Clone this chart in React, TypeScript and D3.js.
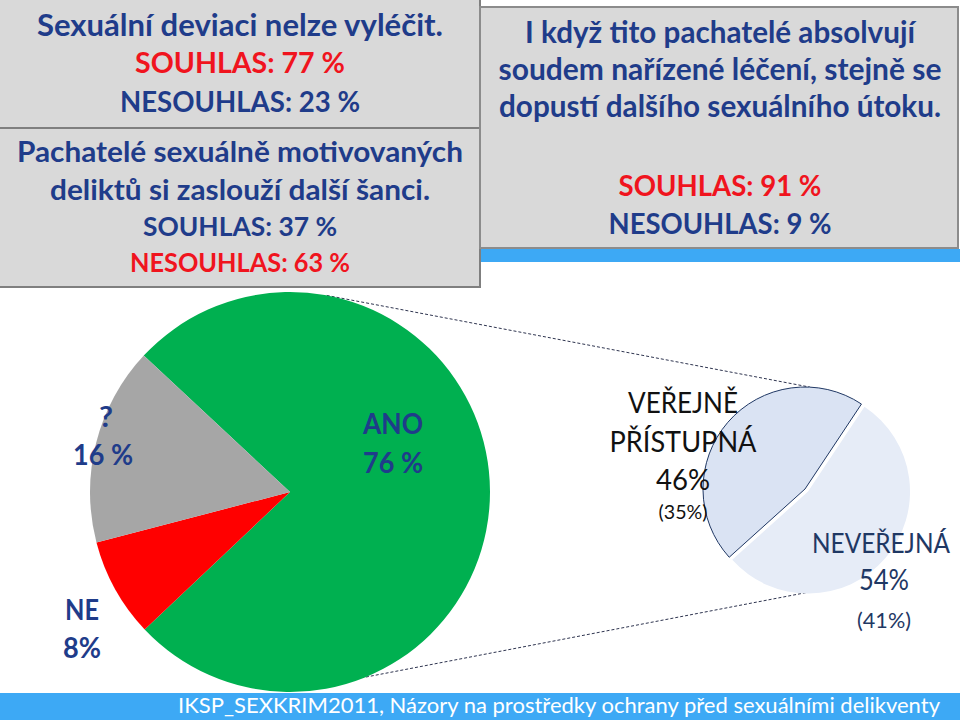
import React from 'react';
import * as d3 from 'd3';

// ---- data ----
const mainCategories = ['ANO', 'NE', '?'];
const mainValues = [76, 8, 16];
const mainLabels = ['76 %', '8%', '16 %'];
const subCategories = ['VEŘEJNĚ PŘÍSTUPNÁ', 'NEVEŘEJNÁ'];
const subValues = [46, 54];
const subShares = ['(35%)', '(41%)'];

const box1Title = ['Sexuální deviaci nelze vyléčit.'];
const box1Agree = 77;
const box1Disagree = 23;
const box2Title = ['Pachatelé sexuálně motivovaných', 'deliktů si zaslouží další šanci.'];
const box2Agree = 37;
const box2Disagree = 63;
const box3Title = ['I když tito pachatelé absolvují', 'soudem nařízené léčení, stejně se', 'dopustí dalšího sexuálního útoku.'];
const box3Agree = 91;
const box3Disagree = 9;
const footer = 'IKSP_SEXKRIM2011,  Názory na prostředky ochrany před sexuálními delikventy';

// ---- style ----
const FONT = "Lato, 'Open Sans', sans-serif";
const NAVY = '#1F3C8A';
const RED = '#F0141E';
const mainColors = ['#00B050', '#FF0000', '#A6A6A6'];
const subColors = ['#DAE3F3', '#E6ECF7'];

type Line = { t: string; x: number; y: number; w: number; c: string; s: number; b?: boolean };

const T = ({ l }: { l: Line }) => (
  <text
    x={l.x}
    y={l.y}
    textAnchor="middle"
    fill={l.c}
    fontFamily={FONT}
    fontWeight={l.b === false ? 400 : 700}
    fontSize={l.s}
    textLength={l.w}
    lengthAdjust="spacingAndGlyphs"
  >
    {l.t}
  </text>
);

export default function App() {
  const W = 960, H = 720;

  // main pie
  const mc = [290, 492];
  const mr = 200;
  const deg = Math.PI / 180;
  const mainPie = d3.pie<number>().sort(null).startAngle(-47 * deg).endAngle(313 * deg)(mainValues);
  const mainArc = d3.arc<d3.PieArcDatum<number>>().innerRadius(0).outerRadius(mr);

  // secondary pie
  const sc = [805, 489];
  const sr = 102;
  const subPie = d3.pie<number>().sort(null).startAngle(-132 * deg).endAngle(228 * deg)(subValues);
  const subArc = d3.arc<d3.PieArcDatum<number>>().innerRadius(0).outerRadius(sr);

  const pt = (c: number[], r: number, a: number) => [c[0] + r * Math.sin(a * deg), c[1] - r * Math.cos(a * deg)];
  const connectors = [
    [pt(mc, mr, 10.6), pt(sc, sr, 2.8)],
    [pt(mc, mr, 157.7), pt(sc, sr, 168)],
  ];

  const box1: Line[] = [
    { t: box1Title[0], x: 240, y: 36, w: 406, c: NAVY, s: 30 },
    { t: `SOUHLAS:  ${box1Agree} %`, x: 240, y: 73, w: 210, c: RED, s: 28 },
    { t: `NESOUHLAS: ${box1Disagree} %`, x: 240, y: 112, w: 240, c: NAVY, s: 28 },
    { t: box2Title[0], x: 240, y: 162, w: 446, c: NAVY, s: 29 },
    { t: box2Title[1], x: 240, y: 200, w: 380, c: NAVY, s: 29 },
    { t: `SOUHLAS:  ${box2Agree} %`, x: 240, y: 236, w: 194, c: NAVY, s: 26 },
    { t: `NESOUHLAS: ${box2Disagree} %`, x: 240, y: 272, w: 220, c: RED, s: 26 },
  ];
  const box3: Line[] = [
    { t: box3Title[0], x: 720, y: 43, w: 390, c: NAVY, s: 30 },
    { t: box3Title[1], x: 720, y: 80, w: 443, c: NAVY, s: 30 },
    { t: box3Title[2], x: 720, y: 117, w: 442, c: NAVY, s: 30 },
    { t: `SOUHLAS: ${box3Agree} %`, x: 720, y: 196, w: 203, c: RED, s: 28 },
    { t: `NESOUHLAS: ${box3Disagree} %`, x: 720, y: 234, w: 223, c: NAVY, s: 28 },
  ];

  const mainLabelLines: Line[] = [
    { t: mainCategories[0], x: mc[0] + 103, y: 434, w: 60, c: NAVY, s: 29 },
    { t: mainLabels[0], x: mc[0] + 103, y: 473, w: 60, c: NAVY, s: 29 },
    { t: mainCategories[1], x: mc[0] - 208, y: 620, w: 34, c: NAVY, s: 29 },
    { t: mainLabels[1], x: mc[0] - 208, y: 658, w: 38, c: NAVY, s: 29 },
    { t: mainCategories[2], x: mc[0] - 184, y: 427, w: 14, c: NAVY, s: 29 },
    { t: mainLabels[2], x: mc[0] - 187, y: 465, w: 60, c: NAVY, s: 29 },
  ];
  const [subA1, subA2] = subCategories[0].split(' ');
  const subLabelLines: Line[] = [
    { t: subA1, x: sc[0] - 122, y: 413, w: 110, c: '#111111', s: 28, b: false },
    { t: subA2, x: sc[0] - 122, y: 452, w: 147, c: '#111111', s: 28, b: false },
    { t: `${subValues[0]}%`, x: sc[0] - 122, y: 490, w: 54, c: '#111111', s: 28, b: false },
    { t: subShares[0], x: sc[0] - 122, y: 519, w: 49, c: '#111111', s: 19, b: false },
    { t: subCategories[1], x: sc[0] + 76, y: 553, w: 138, c: '#1F3864', s: 27, b: false },
    { t: `${subValues[1]}%`, x: sc[0] + 79, y: 590, w: 50, c: '#1F3864', s: 28, b: false },
    { t: subShares[1], x: sc[0] + 79, y: 628, w: 54, c: '#1F3864', s: 21, b: false },
  ];

  const subOff = (d: d3.PieArcDatum<number>, i: number) => {
    if (i === 0) return [0, 0];
    const a = (d.startAngle + d.endAngle) / 2;
    return [4 * Math.sin(a), -4 * Math.cos(a)];
  };

  return (
    <svg width={W} height={H} style={{ position: 'absolute', left: 0, top: 0, background: '#fff' }}>
      <rect x={0} y={0} width={W} height={H} fill="#ffffff" />
      {/* left boxes */}
      <rect x={-2} y={-2} width={482} height={289} fill="#D9D9D9" stroke="#7F7F7F" strokeWidth={2} />
      <line x1={0} x2={480} y1={128} y2={128} stroke="#7F7F7F" strokeWidth={2} />
      {/* right box */}
      <rect x={480} y={7} width={478} height={241} fill="#D9D9D9" stroke="#8C8C8C" strokeWidth={2} />
      <rect x={481} y={249} width={479} height={13} fill="#3DA9F5" />
      {box1.map((l, i) => <T key={'b1' + i} l={l} />)}
      {box3.map((l, i) => <T key={'b3' + i} l={l} />)}

      {/* connector lines */}
      {connectors.map((c, i) => (
        <line key={'cn' + i} x1={c[0][0]} y1={c[0][1]} x2={c[1][0]} y2={c[1][1]}
          stroke="#2F3550" strokeWidth={1} strokeDasharray="3,2" />
      ))}

      {/* main pie */}
      <g transform={`translate(${mc[0]},${mc[1]})`}>
        {mainPie.map((d, i) => (
          <path key={'m' + i} d={mainArc(d) || ''} fill={mainColors[i]} />
        ))}
      </g>

      {/* secondary pie */}
      <g transform={`translate(${sc[0]},${sc[1]})`}>
        {subPie.map((d, i) => {
          const [dx, dy] = subOff(d, i);
          return (
            <path key={'s' + i} transform={`translate(${dx},${dy})`} d={subArc(d) || ''}
              fill={subColors[i]} stroke={i === 0 ? '#203864' : 'none'} strokeWidth={1} />
          );
        })}
      </g>

      {mainLabelLines.map((l, i) => <T key={'ml' + i} l={l} />)}
      {subLabelLines.map((l, i) => <T key={'sl' + i} l={l} />)}

      {/* footer */}
      <rect x={0} y={693} width={W} height={27} fill="#3DA9F5" />
      <text x={559} y={713} textAnchor="middle" fill="#ffffff" fontFamily={FONT} fontSize={22}
        textLength={762} lengthAdjust="spacingAndGlyphs">{footer}</text>
    </svg>
  );
}
